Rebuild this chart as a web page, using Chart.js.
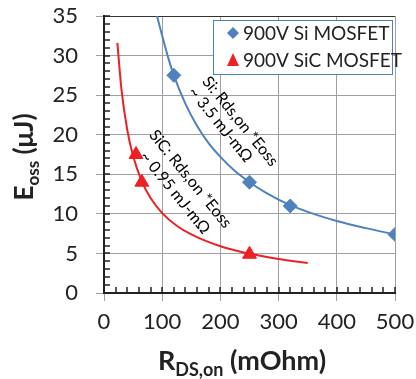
<!DOCTYPE html>
<html>
<head>
<meta charset="utf-8">
<script src="https://cdn.jsdelivr.net/npm/chart.js@4.4.0/dist/chart.umd.min.js"></script>
<style>
html, body { margin: 0; padding: 0; background: #fff; }
#wrap { width: 416px; height: 379px; }
</style>
</head>
<body>
<div id="wrap"><canvas id="chart"></canvas></div>
<script>
// measured points
var si_rds = [120, 250, 320, 500];
var si_eoss = [27.5, 14, 11, 7.4];
var sic_rds = [55, 65, 250];
var sic_eoss = [17.5, 14, 4.9];

// fitted curves
var si_fit_rds = [91, 100, 110, 120, 140, 160, 180, 200, 225, 250, 280, 320, 360, 400, 450, 500];
var si_fit_eoss = [35, 32.5, 29.8, 27.5, 23.9, 21.1, 18.9, 17.2, 15.4, 14, 12.6, 11.1, 10, 9.1, 8.2, 7.4];
var sic_fit_rds = [23, 30, 40, 50, 65, 80, 100, 125, 150, 200, 250, 300, 350];
var sic_fit_eoss = [31.6, 25.7, 20.6, 17.3, 14.1, 12, 10.1, 8.5, 7.4, 5.9, 4.95, 4.3, 3.8];

var legend_labels = ["900V Si MOSFET", "900V SiC MOSFET"];
var si_note = ["Si: Rds,on *Eoss", "~ 3.5 mJ-m\u03A9"];
var sic_note = ["SiC: Rds,on *Eoss", "~ 0.95 mJ-m\u03A9"];

var BLUE = '#4f81bd';
var RED = '#ee2024';
var GRID = '#a0a0a0';
var FONT = 'Lato, "Open Sans", sans-serif';

function toXY(xs, ys) {
    var out = [];
    for (let i = 0; i < xs.length; i++) out.push({x: xs[i], y: ys[i]});
    return out;
}

function drawRich(ctx, parts, cx, cy, rot) {
    var total = 0;
    parts.forEach(function(p) {
        ctx.font = 'bold ' + p.size + 'px ' + FONT;
        p.w = ctx.measureText(p.t).width;
        total += p.w;
    });
    ctx.save();
    ctx.translate(cx, cy);
    ctx.rotate(rot);
    ctx.fillStyle = '#222';
    ctx.textBaseline = 'alphabetic';
    ctx.textAlign = 'left';
    var x = -total / 2;
    parts.forEach(function(p) {
        ctx.font = 'bold ' + p.size + 'px ' + FONT;
        ctx.fillText(p.t, x, p.dy);
        x += p.w;
    });
    ctx.restore();
}

var extras = {
    id: 'extras',
    afterDatasetsDraw: function(chart) {
        var ctx = chart.ctx;
        var xs = chart.scales.x, ys = chart.scales.y;
        var ang = 51 * Math.PI / 180;
        ctx.save();
        ctx.fillStyle = '#000';
        ctx.font = '16px ' + FONT;
        ctx.textAlign = 'center';
        ctx.textBaseline = 'middle';
        // text, then anchor (rds, eoss) of line 1 and line 2
        [[si_note, 234, 21.7, 200, 21.3], [sic_note, 148.5, 14.4, 122, 12.7]].forEach(function(n) {
            for (let k = 0; k < 2; k++) {
                ctx.save();
                ctx.translate(xs.getPixelForValue(n[1 + 2 * k]), ys.getPixelForValue(n[2 + 2 * k]));
                ctx.rotate(ang);
                ctx.fillText(n[0][k], 0, 0);
                ctx.restore();
            }
        });
        ctx.restore();
    },
    afterDraw: function(chart) {
        var ctx = chart.ctx;
        var xs = chart.scales.x, ys = chart.scales.y;
        var a = chart.chartArea;
        // minor ticks, inward
        ctx.save();
        ctx.strokeStyle = '#222';
        ctx.lineWidth = 1.5;
        ctx.beginPath();
        for (let v = 0; v <= 500; v += 20) {
            var px = Math.round(xs.getPixelForValue(v));
            ctx.moveTo(px, a.bottom);
            ctx.lineTo(px, a.bottom - 6);
        }
        for (let v = 0; v <= 35; v += 1) {
            var py = Math.round(ys.getPixelForValue(v));
            ctx.moveTo(a.left, py);
            ctx.lineTo(a.left + 6, py);
        }
        ctx.stroke();
        ctx.restore();

        // axis titles
        drawRich(ctx, [{t: 'E', size: 26, dy: 0}, {t: 'oss', size: 17, dy: 6}, {t: ' (\u03BCJ)', size: 26, dy: 0}], 33, 157, -Math.PI / 2);
        drawRich(ctx, [{t: 'R', size: 27, dy: 0}, {t: 'DS,on', size: 18, dy: 6}, {t: ' (mOhm)', size: 27, dy: 0}], 242, 370, 0);

        // legend box
        ctx.save();
        ctx.fillStyle = '#fff';
        ctx.strokeStyle = BLUE;
        ctx.lineWidth = 1;
        ctx.fillRect(213, 20, 179, 54);
        ctx.strokeRect(213.5, 20.5, 179, 54);
        ctx.fillStyle = BLUE;
        ctx.beginPath();
        ctx.moveTo(233, 27); ctx.lineTo(239, 33); ctx.lineTo(233, 39); ctx.lineTo(227, 33);
        ctx.closePath(); ctx.fill();
        ctx.fillStyle = RED;
        ctx.beginPath();
        ctx.moveTo(233, 53); ctx.lineTo(239, 66); ctx.lineTo(227, 66);
        ctx.closePath(); ctx.fill();
        ctx.fillStyle = '#222';
        ctx.font = '19px ' + FONT;
        ctx.textAlign = 'left';
        ctx.textBaseline = 'middle';
        ctx.fillText(legend_labels[0], 243, 34);
        ctx.fillText(legend_labels[1], 243, 61);
        ctx.restore();
    }
};

const ctx = document.getElementById('chart').getContext('2d');
const myChart = new Chart(ctx, {
    type: 'scatter',
    data: {
        datasets: [{
            label: 'Si fit',
            data: toXY(si_fit_rds, si_fit_eoss),
            showLine: true,
            borderColor: BLUE,
            borderWidth: 2,
            pointRadius: 0,
            cubicInterpolationMode: 'monotone',
        }, {
            label: 'SiC fit',
            data: toXY(sic_fit_rds, sic_fit_eoss),
            showLine: true,
            borderColor: RED,
            borderWidth: 2,
            pointRadius: 0,
            cubicInterpolationMode: 'monotone',
        }, {
            label: legend_labels[0],
            data: toXY(si_rds, si_eoss),
            pointStyle: 'rectRot',
            pointRadius: 7,
            backgroundColor: BLUE,
            borderColor: BLUE,
        }, {
            label: legend_labels[1],
            data: toXY(sic_rds, sic_eoss),
            pointStyle: 'triangle',
            pointRadius: 8,
            backgroundColor: RED,
            borderColor: RED,
        }],
    },
    options: {
        responsive: true,
        maintainAspectRatio: false,
        animation: false,
        layout: { padding: { top: 16, right: 21, left: 0, bottom: 0 } },
        plugins: {
            legend: { display: false },
            tooltip: { enabled: false },
        },
        scales: {
            x: {
                type: 'linear',
                min: 0,
                max: 500,
                ticks: {
                    stepSize: 100,
                    color: '#222',
                    font: { family: FONT, size: 22 },
                    padding: 8,
                },
                grid: {
                    color: GRID,
                    tickColor: GRID,
                    tickLength: 8,
                },
                border: { color: '#222', width: 2 },
                afterFit: function(scale) {
                    scale.height = 86;
                    scale.paddingLeft = 0;
                    scale.paddingRight = 0;
                },
            },
            y: {
                min: 0,
                max: 35,
                ticks: {
                    stepSize: 5,
                    color: '#222',
                    font: { family: FONT, size: 22 },
                    padding: 18,
                },
                grid: {
                    color: function(c) { return c.tick && c.tick.value === 35 ? '#333' : GRID; },
                    tickColor: GRID,
                    tickLength: 8,
                },
                border: { color: '#222', width: 2 },
                afterFit: function(scale) {
                    scale.width = 104;
                    scale.paddingTop = 0;
                    scale.paddingBottom = 0;
                },
            },
        },
    },
    plugins: [extras],
});
</script>
</body>
</html>
